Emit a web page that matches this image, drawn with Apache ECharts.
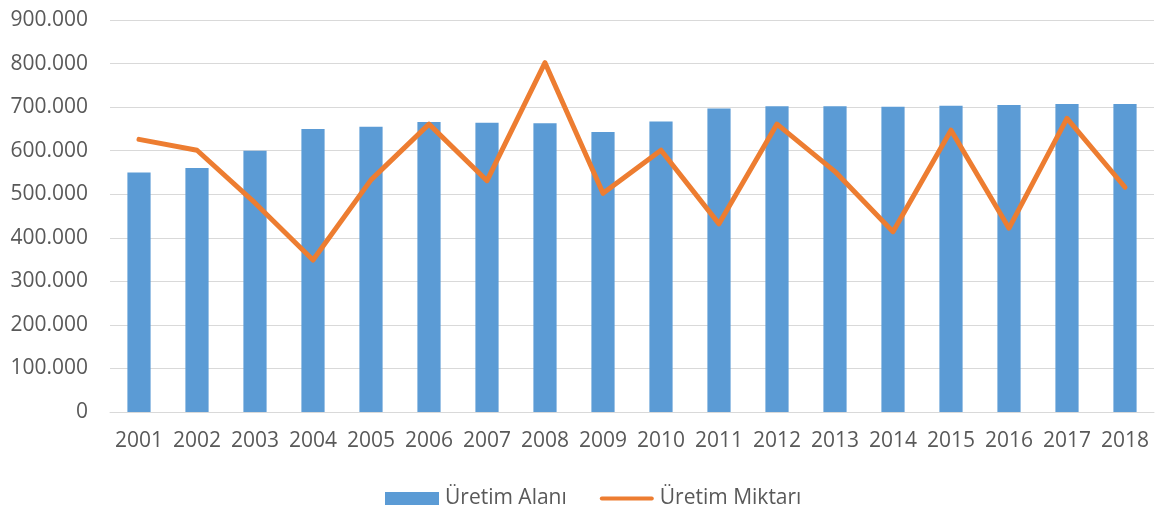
<!DOCTYPE html>
<html>
<head>
<meta charset="utf-8">
<script src="https://cdn.jsdelivr.net/npm/echarts@6/dist/echarts.min.js"></script>
<style>
html,body{margin:0;padding:0;background:#fff;}
#chart{width:1155px;height:509px;}
</style>
</head>
<body>
<div id="chart"></div>
<script>
const years = ['2001','2002','2003','2004','2005','2006','2007','2008','2009','2010','2011','2012','2013','2014','2015','2016','2017','2018'];
const uretimAlani = [550000,560000,600000,650000,655000,666000,664000,663000,643000,667000,697000,702000,702000,701000,703000,705000,707000,707000];
const uretimMiktari = [626000,601000,480000,349000,533000,661000,531000,802000,502000,601000,432000,661000,552000,414000,647000,422000,674000,516000];
const seriesNames = ['Üretim Alanı','Üretim Miktarı'];

function fmt(v){
  return String(Math.round(v)).replace(/\B(?=(\d{3})+(?!\d))/g, '.');
}

const chart = echarts.init(document.getElementById('chart'), null, {renderer:'canvas'});
const font = '"Open Sans", "Liberation Sans", sans-serif';
chart.setOption({
  animation:false,
  backgroundColor:'#ffffff',
  textStyle:{fontFamily:font},
  grid:{left:110, right:1, top:20, bottom:97, containLabel:false},
  legend:{
    top:483, left:380,
    itemGap:33, itemWidth:54, itemHeight:13,
    textStyle:{fontSize:21, color:'#595959', fontFamily:font, padding:[0,0,0,1]},
    data:[
      {name:seriesNames[0], icon:'rect'},
      {name:seriesNames[1], icon:'path://M0,0 M54,13 M2,4.5 L52,4.5 A2,2 0 0 1 52,8.5 L2,8.5 A2,2 0 0 1 2,4.5 Z', itemStyle:{color:'#ED7D31'}}
    ]
  },
  xAxis:{
    type:'category', data:years,
    axisLine:{show:true, lineStyle:{color:'#d9d9d9', width:1}},
    axisTick:{show:false},
    axisLabel:{fontSize:21, color:'#595959', margin:19, fontFamily:font, interval:0}
  },
  yAxis:{
    type:'value', min:0, max:900000, interval:100000,
    axisLine:{show:false}, axisTick:{show:false},
    splitLine:{lineStyle:{color:'#d9d9d9', width:1}},
    axisLabel:{fontSize:21, color:'#595959', margin:22, fontFamily:font, formatter:fmt}
  },
  series:[
    {name:seriesNames[0], type:'bar', data:uretimAlani, barWidth:'40%',
     itemStyle:{color:'#5B9BD5'}},
    {name:seriesNames[1], type:'line', data:uretimMiktari, symbol:'none',
     lineStyle:{color:'#ED7D31', width:5, cap:'round', join:'round'},
     itemStyle:{color:'#ED7D31'}}
  ]
});
</script>
</body>
</html>
